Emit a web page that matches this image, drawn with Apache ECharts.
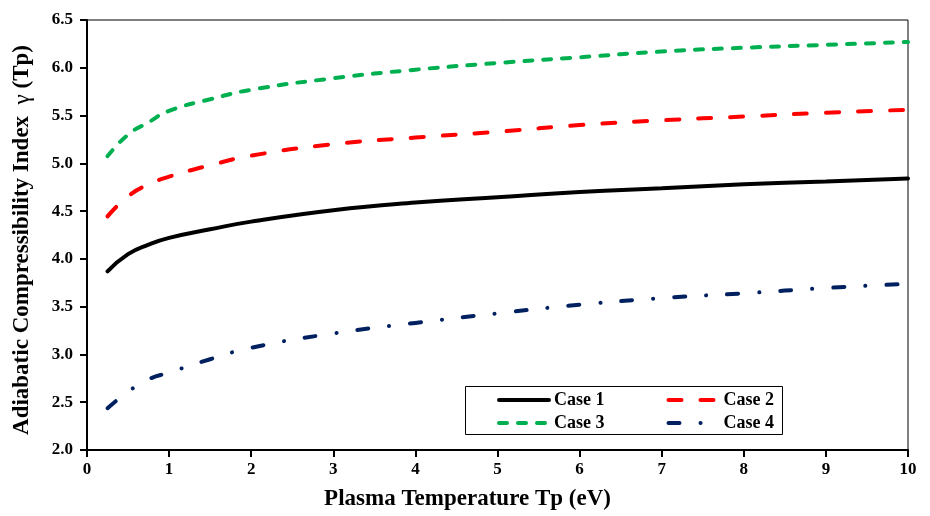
<!DOCTYPE html>
<html>
<head>
<meta charset="utf-8">
<script src="https://cdn.jsdelivr.net/npm/echarts@6/dist/echarts.min.js"></script>
<style>
  html, body { margin: 0; padding: 0; background: #fff; }
  #chart { width: 930px; height: 516px; }
</style>
</head>
<body>
<div id="chart"></div>
<script>
// values
const tp = [0.25, 0.5, 0.75, 1, 1.5, 2, 3, 4, 5, 6, 7, 8, 9, 10];
const case1 = [3.87, 4.05, 4.15, 4.22, 4.31, 4.39, 4.51, 4.59, 4.645, 4.70, 4.74, 4.78, 4.81, 4.84];
const case2 = [4.445, 4.655, 4.78, 4.86, 4.98, 5.08, 5.20, 5.27, 5.33, 5.40, 5.45, 5.49, 5.53, 5.56];
const case3 = [5.075, 5.30, 5.43, 5.55, 5.67, 5.77, 5.89, 5.98, 6.05, 6.11, 6.17, 6.21, 6.24, 6.27];
const case4 = [2.437, 2.61, 2.74, 2.81, 2.95, 3.07, 3.22, 3.33, 3.43, 3.52, 3.59, 3.64, 3.695, 3.74];
const seriesNames = ["Case 1", "Case 2", "Case 3", "Case 4"];
const xTicks = [0, 1, 2, 3, 4, 5, 6, 7, 8, 9, 10];

const font = "Liberation Serif";
const pairs = (ys) => tp.map((x, i) => [x, ys[i]]);

const chart = echarts.init(document.getElementById("chart"));

const lineSeries = (name, ys, color, type) => ({
  name: name,
  type: "line",
  data: pairs(ys),
  smooth: true,
  symbol: "none",
  itemStyle: { color: color },
  lineStyle: { color: color, width: 4, type: type, cap: "round" },
});

const legendText = { fontFamily: font, fontWeight: "bold", fontSize: 18, color: "#000" };

const legendRow = (names, top) => ({
  data: names,
  left: 497,
  top: top,
  itemWidth: 50,
  itemHeight: 14,
  itemGap: 62,
  textStyle: legendText,
  itemStyle: { opacity: 0 },
  lineStyle: { width: 4 },
  padding: 0,
});

const option = {
  animation: false,
  backgroundColor: "#fff",
  grid: {
    left: 87,
    right: 22,
    top: 20,
    bottom: 66,
    show: true,
    borderColor: "#000",
    borderWidth: 1,
  },
  legend: [
    legendRow([seriesNames[0], seriesNames[1]], 391),
    legendRow([seriesNames[2], seriesNames[3]], 414),
  ],
  graphic: [
    {
      type: "rect",
      shape: { x: 465.5, y: 386.5, width: 317, height: 48 },
      style: { fill: "none", stroke: "#000", lineWidth: 1 },
      z: 10,
    },
  ],
  xAxis: {
    type: "value",
    min: 0,
    max: 10,
    interval: 1,
    name: "Plasma Temperature Tp (eV)",
    nameLocation: "middle",
    nameGap: 38,
    nameTextStyle: {
      fontFamily: font,
      fontWeight: "bold",
      fontSize: 23,
      color: "#000",
      padding: [0, 60, 0, 0],
    },
    axisLine: { lineStyle: { color: "#000", width: 2 } },
    axisTick: { show: true, length: 7, lineStyle: { color: "#000", width: 2 } },
    axisLabel: {
      margin: 11,
      fontFamily: font,
      fontWeight: "bold",
      fontSize: 17,
      color: "#000",
      formatter: (v) => (xTicks.includes(v) ? String(v) : ""),
    },
    splitLine: { show: false },
  },
  yAxis: {
    type: "value",
    min: 2,
    max: 6.5,
    interval: 0.5,
    name: "Adiabatic Compressibility Index  {g|γ} (Tp)",
    nameLocation: "middle",
    nameGap: 53,
    nameTextStyle: {
      fontFamily: font,
      fontWeight: "bold",
      fontSize: 23,
      color: "#000",
      padding: [0, 10, 0, 0],
      rich: { g: { fontFamily: font, fontWeight: "normal", fontSize: 23, color: "#000" } },
    },
    axisLine: { lineStyle: { color: "#000", width: 2 } },
    axisTick: { show: true, length: 7, lineStyle: { color: "#000", width: 2 } },
    axisLabel: {
      margin: 14,
      fontFamily: font,
      fontWeight: "bold",
      fontSize: 17,
      color: "#000",
      formatter: (v) => v.toFixed(1),
    },
    splitLine: { show: false },
  },
  series: [
    lineSeries(seriesNames[0], case1, "#000000", "solid"),
    lineSeries(seriesNames[1], case2, "#ff0000", [13, 19]),
    lineSeries(seriesNames[2], case3, "#00b050", [8, 11]),
    lineSeries(seriesNames[3], case4, "#002060", [11, 21, 0.1, 21]),
  ],
};

chart.setOption(option);
</script>
</body>
</html>
